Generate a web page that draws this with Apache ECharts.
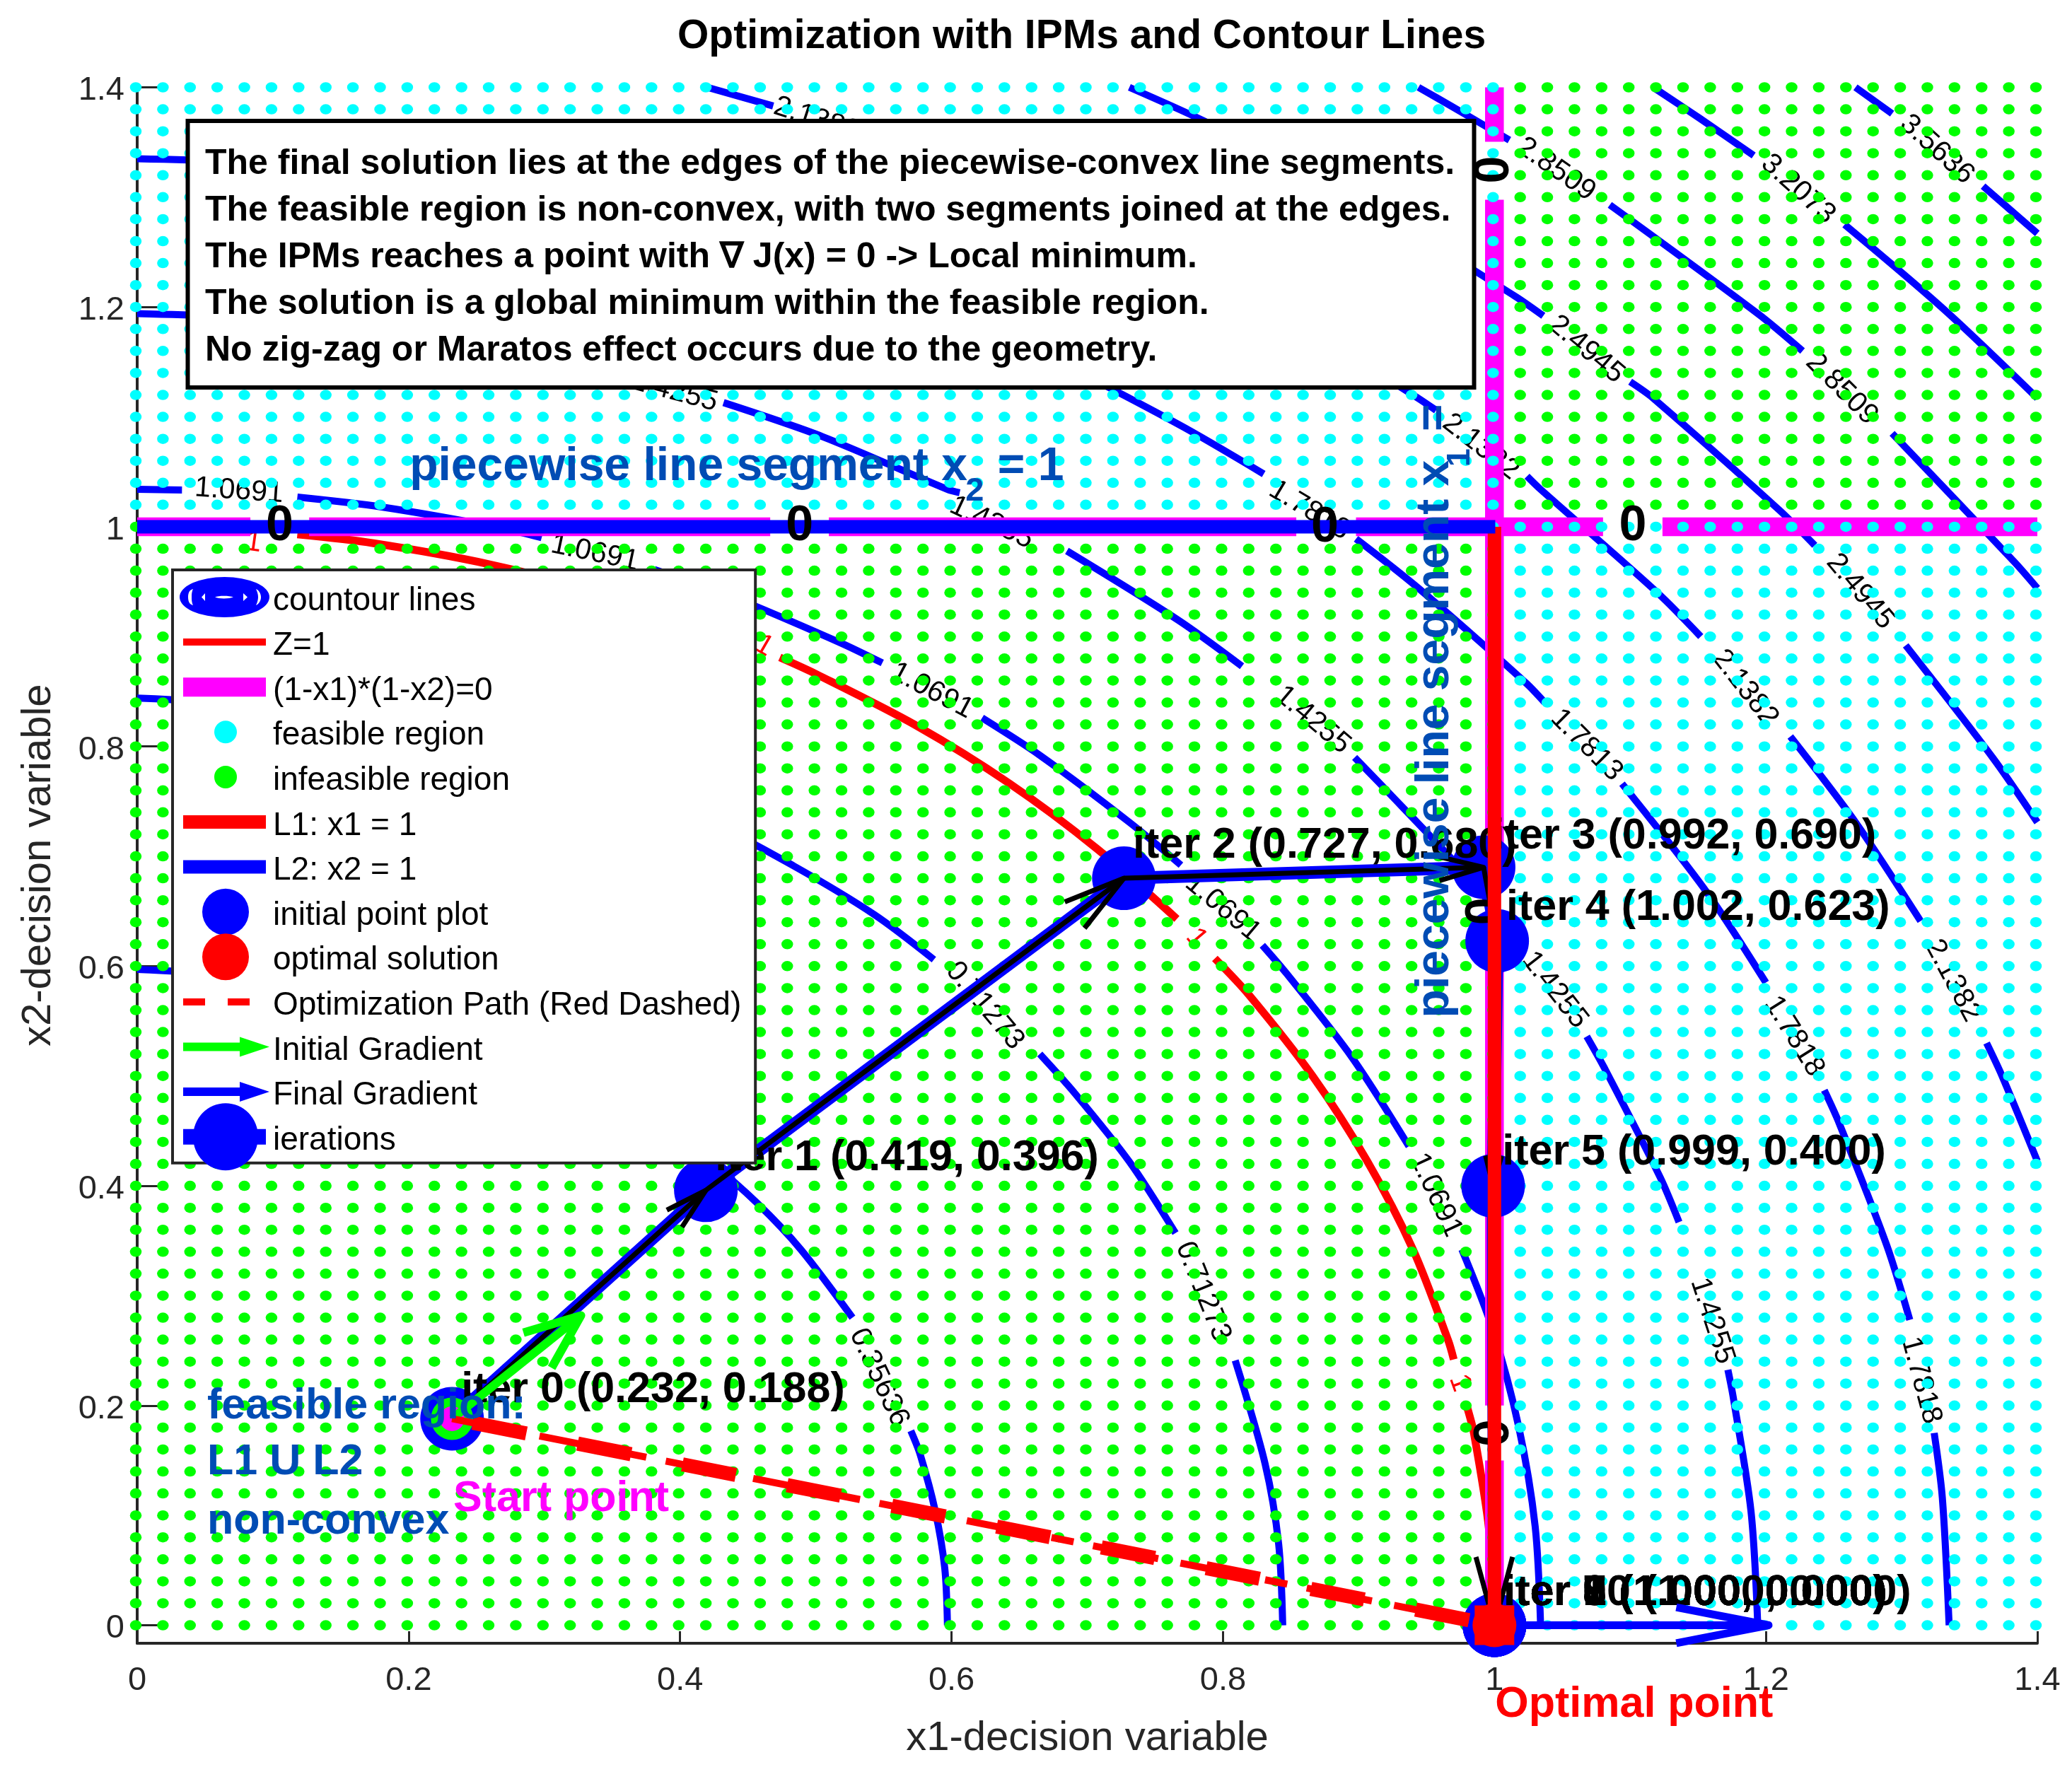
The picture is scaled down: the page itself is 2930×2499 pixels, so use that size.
<!DOCTYPE html>
<html><head><meta charset="utf-8">
<style>html,body{margin:0;padding:0;background:#fff}#c{width:2930px;height:2499px}</style>
<script src="https://cdn.jsdelivr.net/npm/echarts@6/dist/echarts.min.js"></script>
</head><body><div id="c"></div>
<script>
const chartTitle='Optimization with IPMs and Contour Lines';
const xTicks=[0,0.2,0.4,0.6,0.8,1,1.2,1.4];
const yTicks=[0,0.2,0.4,0.6,0.8,1,1.2,1.4];
const latticeValues=[0,0.02,0.04,0.06,0.08,0.1,0.12,0.14,0.16,0.18,0.2,0.22,0.24,0.26,0.28,0.3,0.32,0.34,0.36,0.38,0.4,0.42,0.44,0.46,0.48,0.5,0.52,0.54,0.56,0.58,0.6,0.62,0.64,0.66,0.68,0.7,0.72,0.74,0.76,0.78,0.8,0.82,0.84,0.86,0.88,0.9,0.92,0.94,0.96,0.98,1,1.02,1.04,1.06,1.08,1.1,1.12,1.14,1.16,1.18,1.2,1.22,1.24,1.26,1.28,1.3,1.32,1.34,1.36,1.38,1.4];

const contourSegments=[
 [[.597,0],[.595,.052],[.588,.104],[.577,.155],[.570,.177]],
 [[.527,.28],[.489,.342],[.457,.384],[.422,.422],[.384,.457],[.299,.517],[.204,.561],[.104,.588],[0,.597]],
 [[.844,0],[.841,.074],[.831,.147],[.809,.241]],
 [[.765,.357],[.731,.422],[.691,.484],[.665,.52]],
 [[.587,.606],[.543,.647],[.484,.691],[.422,.731],[.289,.793],[.147,.831],[0,.844]],
 [[1.034,0],[1.030,.090],[1.018,.180],[.999,.268],[.976,.342]],
 [[.937,.436],[.895,.517],[.847,.593],[.829,.619]],
 [[.769,.692],[.731,.731],[.665,.792],[.6225,.826]],
 [[.549,.876],[.517,.895],[.437,.937],[.381,.961]],
 [[.298,.990],[.268,.999],[.180,1.018],[.118,1.027]],
 [[.033,1.0335],[0,1.034]],
 [[1.194,0],[1.189,.104],[1.176,.207],[1.172,.2325]],
 [[1.136,.367],[1.122,.408],[1.082,.505],[1.068,.536]],
 [[1.0,.652],[.978,.685],[.915,.767],[.897,.79]],
 [[.814,.873],[.767,.915],[.685,.978]],
 [[.606,1.031],[.597,1.034],[.505,1.082],[.432,1.113]],
 [[.369,1.136],[.309,1.153],[.207,1.176],[.104,1.189],[0,1.194]],
 [[1.335,0],[1.330,.116],[1.324,.175]],
 [[1.306,.278],[1.289,.346],[1.254,.457],[1.243,.487]],
 [[1.2,.585],[1.156,.668],[1.094,.766]],
 [[1.037,.840],[1.023,.858],[.944,.944],[.898,.989]],
 [[.83,1.048],[.766,1.094],[.668,1.156],[.564,1.210],[.457,1.254],[.346,1.289],[.232,1.315],[.116,1.330],[0,1.335]],
 [[.42,1.4],[.4686,1.383]],
 [[.731,1.266],[.839,1.198],[.940,1.120],[.957,1.106]],
 [[1.024,1.046],[1.034,1.034],[1.120,.940],[1.152,.900]],
 [[1.218,.809],[1.266,.731],[1.314,.641]],
 [[1.3626,.53],[1.374,.500],[1.4,.4225]],
 [[.731,1.4],[.790,1.367],[.906,1.293],[1.015,1.210],[1.036,1.192]],
 [[1.100,1.132],[1.117,1.117],[1.210,1.015],[1.236,.983]],
 [[1.303,.892],[1.367,.790],[1.4,.731]],
 [[.944,1.4],[.968,1.383],[1.011,1.352]],
 [[1.085,1.293],[1.194,1.194],[1.227,1.160]],
 [[1.293,1.085],[1.383,.968],[1.4,.944]],
 [[1.117,1.4],[1.151,1.372],[1.191,1.338]],
 [[1.258,1.275],[1.331,1.198],[1.4,1.117]],
 [[1.266,1.4],[1.293,1.376]],
 [[1.36,1.31],[1.4,1.267]]
];
const contourLabelText=['0.35636','0.71273','0.71273','1.0691','1.0691','1.0691','1.0691','1.0691','1.4255','1.4255','1.4255','1.4255','1.4255','1.7818','1.7813','1.7818','1.7818','2.1382','2.1382','2.1382','2.4945','2.4945','2.8509','2.8509','3.2073','3.5636','2.1382'];
const contourLabelX=[.5466,.7853,.6245,.075,.3371,.5855,.7999,.9567,.3956,.6294,.8661,1.0444,1.1604,.8637,1.0678,1.2208,1.3143,.99,1.1847,1.3377,1.0678,1.2695,1.0454,1.2559,1.2237,1.326,.5008];
const contourLabelY=[.2253,.3036,.5639,1.0325,.9759,.8506,.653,.3916,1.1229,1.0036,.8241,.5783,.2771,1.015,.8012,.5361,.2229,1.0727,.853,.5867,1.1614,.941,1.3253,1.1253,1.3072,1.3434,1.371];
const contourLabelAngle=[-65,-68,-50,-4,-12,-28,-40,-65,-15,-25,-40,-52,-72,-31,-45,-58,-75,-38,-52,-62,-40,-50,-35,-45,-42,-42,-18];

const unitSegments=[
 [[0,1],[.07,.9975]],
 [[.118,.993],[.174,.985],[.259,.966],[.342,.940],[.423,.906],[.44,.898]],
 [[.4735,.881],[.5,.866],[.574,.819],[.643,.766],[.707,.707],[.766,.643]],
 [[.794,.607],[.819,.574],[.866,.5],[.906,.423],[.940,.342],[.966,.259],[.970,.242]],
 [[.980,.198],[.985,.174],[.996,.087],[1,0]]
];
const unitLabelX=[.0857,.4618,.7804,.9743];
const unitLabelY=[.9855,.8916,.6253,.2205];
const unitLabelAngle=[-8,-30,-50,-70];

const constraintSegments=[
 [[0,1],[.0834,1]],[[.1267,1],[.4664,1]],[[.5096,1],[.854,1]],[[.898,1],[1.080,1]],[[1.1238,1],[1.4,1]],
 [[1,0],[1,.15]],[[1,.2],[1,.625]],[[1,.675],[1,1.2977]],[[1,1.3505],[1,1.4]]
];
const zeroAcrossX=[.105,.488,.875,1.102];
const zeroAcrossY=[1,1,.9986,1];
const zeroAlongX=[1,.994];
const zeroAlongY=[.175,.65];
const zeroTopX=[1];
const zeroTopY=[1.325];

const iterX=[.232,.419,.727,.992,1.002,.999,1,1,1,1,1];
const iterY=[.188,.396,.680,.690,.623,.400,0,0,0,0,0];
const iterText=['iter 0 (0.232, 0.188)','iter 1 (0.419, 0.396)','iter 2 (0.727, 0.680)','iter 3 (0.992, 0.690)','iter 4 (1.002, 0.623)','iter 5 (0.999, 0.400)','iter 6 (1.000, 0.000)','iter 7 (1.000, 0.000)','iter 8 (1.000, 0.000)','iter 9 (1.000, 0.000)','iter 10 (1.000, 0.000)'];
const iterTextX=[.2387,.4258,.7336,.9987,1.0087,1.0057,1.0067,1.0067,1.0067,1.0067,1.0067];
const iterTextY=[.214,.4253,.7096,.718,.653,.43,.029,.029,.029,.029,.029];
const stepStart=[[.232,.188],[.419,.396],[.727,.680],[.992,.690],[1.002,.623],[.999,.400]];
const stepEnd=[[.419,.396],[.727,.680],[.992,.690],[1.002,.623],[.999,.400],[1,0]];
const stepHead=[62,90,65,14,44,100];

const startPoint=[.232,.188];
const optimalPoint=[1,0];
const initialGradient=[.232,.188,.327,.282];
const finalGradient=[1,0,1.202,0];
const boxLines=['The final solution lies at the edges of the piecewise-convex line segments.','The feasible region is non-convex, with two segments joined at the edges.','The IPMs reaches a point with \u2207 J(x) = 0 -> Local minimum.','The solution is a global minimum within the feasible region.','No zig-zag or Maratos effect occurs due to the geometry.'];

const noteText=['feasible region:','L1 U L2','non-convex','Start point','Optimal point'];
const noteX=[.0516,.0516,.0516,.2329,1.0005];
const noteY=[.199,.148,.094,.1145,-.0723];
const BLUE_NOTE='#004cb4';
const noteColor=[BLUE_NOTE,BLUE_NOTE,BLUE_NOTE,'#ff00ff','#ff0000'];
const segmentNoteText=['piecewise line segment x','= 1'];
const segmentNoteX=[.2007,.634];
const segmentNoteY=[1.054,1.054];
const sideNoteX=[.9565,.9565];
const sideNoteY=[.553,1.0868];

const SANS='"Liberation Sans"';
function flat(segs){const o=[];segs.forEach((s,i)=>{if(i)o.push(['-','-']);s.forEach(p=>o.push(p));});return o;}
function isFeasible(x,y){
  if((x-1)*(y-1)<0)return true;
  if(x===1&&y>=1)return true;
  if(y===1&&x>1)return true;
  return false;
}
const feasiblePts=[],infeasiblePts=[];
latticeValues.forEach(x=>latticeValues.forEach(y=>{(isFeasible(x,y)?feasiblePts:infeasiblePts).push([x,y]);}));

function textSeries(name,xs,ys,texts,angles,font,colors,align){
  return {type:'custom',name,silent:true,coordinateSystem:'cartesian2d',clip:false,encode:{x:0,y:1},
    data:xs.map((x,i)=>[x,ys[i]]),
    renderItem(p,api){
      const i=p.dataIndex,c=api.coord([api.value(0),api.value(1)]);
      const col=Array.isArray(colors)?colors[i]:colors;
      return {type:'text',x:c[0],y:c[1],rotation:(angles?angles[i]:0)*Math.PI/180,
        style:{text:Array.isArray(texts)?texts[i]:texts,font,fill:col,align:align||'center',verticalAlign:'middle'}};
    }};
}
function arrowSeries(name,rows,color,width,heads,headDeg){
  return {type:'custom',name,silent:true,clip:false,coordinateSystem:'cartesian2d',encode:{x:[0,2],y:[1,3]},
    data:rows,
    renderItem(p,api){
      const a=api.coord([api.value(0),api.value(1)]),b=api.coord([api.value(2),api.value(3)]);
      const t=Math.atan2(b[1]-a[1],b[0]-a[0]),r=headDeg*Math.PI/180,headLen=heads[p.dataIndex];
      const s1=[b[0]-headLen*Math.cos(t-r),b[1]-headLen*Math.sin(t-r)];
      const s2=[b[0]-headLen*Math.cos(t+r),b[1]-headLen*Math.sin(t+r)];
      const st={stroke:color,lineWidth:width,fill:null,lineJoin:'round'};
      return {type:'group',children:[
        {type:'polyline',shape:{points:[a,b]},style:st},
        {type:'polyline',shape:{points:[s1,b,s2]},style:st}]};
    }};
}
function lineSeries(name,data,color,width,extra){
  return Object.assign({type:'line',name,data,symbol:'none',silent:true,clip:false,connectNulls:false,animation:false,
    lineStyle:{color,width,cap:'butt',join:'miter'},itemStyle:{color}},extra||{});
}
function dots(name,data,color,size,sym,offset){
  return {type:'scatter',name,data,symbol:sym||'circle',symbolSize:size,symbolOffset:offset||[0,0],silent:true,clip:false,itemStyle:{color,opacity:1}};
}
const CORNERS='M0 0L.01 0L.01 .01ZM127 95L126.99 95L126.99 94.99Z';
const bar=(x0,x1,h)=>`M${x0} ${47.5-h/2}H${x1}V${47.5+h/2}H${x0}Z`;
const disc=(r)=>`M${65-r} 47.5a${r} ${r} 0 1 0 ${2*r} 0a${r} ${r} 0 1 0 ${-2*r} 0Z`;
const arrowIcon=bar(5,90,12)+'M85 33.5L127 47.5L85 61.5Z';
const ellipseIcon='M0 47.5a63.5 28.5 0 1 0 127 0a63.5 28.5 0 1 0 -127 0Z'+
 'M12 47.5C12 40 15 37 19 36C17 40 17 45 17 47.5C17 50 17 55 19 59C15 58 12 55 12 47.5Z'+
 'M31 47.5L36 42L36 53Z M50 47.5C55 45 70 45 76 47.5C70 50 55 50 50 47.5Z M90 42L96 47.5L90 53Z'+
 'M108 36C112 38 115 42 115 47.5C115 53 112 57 108 59C110 55 111 51 111 47.5C111 44 110 40 108 36Z';
const icons={
 'countour lines':[ellipseIcon,'#0000ff'],
 'Z=1':[bar(5,122,10),'#ff0000'],
 '(1-x1)*(1-x2)=0':[bar(5,122,27),'#ff00ff'],
 'feasible region':[disc(16),'#00ffff'],
 'infeasible region':[disc(16),'#00ff00'],
 'L1: x1 = 1':[bar(5,122,19),'#ff0000'],
 'L2: x2 = 1':[bar(5,122,19),'#0000ff'],
 'initial point plot':[disc(33),'#0000ff'],
 'optimal solution':[disc(33),'#ff0000'],
 'Optimization Path (Red Dashed)':[bar(5,36,10)+bar(68,99,10),'#ff0000'],
 'Initial Gradient':[arrowIcon,'#00ff00'],
 'Final Gradient':[arrowIcon,'#0000ff'],
 'ierations':[bar(5,122,22)+'M19 47.5a46 47.5 0 1 1 92 0a46 47.5 0 1 1 -92 0Z','#0000ff']
};
const legendData=Object.keys(icons).map(n=>({name:n,icon:'path://'+CORNERS+icons[n][0],itemStyle:{color:icons[n][1],borderWidth:0}}));

const DOT=[16.5,14.5],DOT_SHIFT=[-2,0];
const series=[
 lineSeries('countour lines',flat(contourSegments),'#0000ff',10,{smooth:.3}),
 textSeries('contour labels',contourLabelX,contourLabelY,contourLabelText,contourLabelAngle,'41px '+SANS,'#000'),
 lineSeries('Z=1',flat(unitSegments),'#ff0000',11,{smooth:.3}),
 textSeries('unit labels',unitLabelX,unitLabelY,'1',unitLabelAngle,'41px '+SANS,'#ff0000'),
 lineSeries('(1-x1)*(1-x2)=0',flat(constraintSegments),'#ff00ff',26.5),
 dots('feasible region',feasiblePts,'#00ffff',DOT,'circle',DOT_SHIFT),
 dots('infeasible region',infeasiblePts,'#00ff00',DOT,'circle',DOT_SHIFT),
 lineSeries('ierations',iterX.map((x,i)=>[x,iterY[i]]),'#0000ff',18,{symbol:'circle',symbolSize:90,showSymbol:true,showAllSymbol:true,itemStyle:{color:'#0000ff'}}),
 arrowSeries('steps',stepStart.map((s,i)=>[s[0],s[1],stepEnd[i][0],stepEnd[i][1]]),'#000',7,stepHead,15),
 textSeries('iter labels',iterTextX,iterTextY,iterText,null,'bold 61px '+SANS,'#000','left'),
 textSeries('zero along',zeroAlongX,zeroAlongY,'0',[90,90],'bold 70px '+SANS,'#000'),
 lineSeries('L1: x1 = 1',[[1,0],[1,1]],'#ff0000',19),
 lineSeries('L2: x2 = 1',[[0,1],[1.0006,1]],'#0000ff',19),
 dots('initial point plot',[startPoint],'#00ff00',60),
 dots('start core',[startPoint],'#ff00ff',35),
 arrowSeries('Final Gradient',[finalGradient],'#0000ff',11,[133],11),
 arrowSeries('Initial Gradient',[initialGradient],'#00ff00',12,[85],22),
 lineSeries('Optimization Path (Red Dashed)',[startPoint,optimalPoint],'#ff0000',10,{lineStyle:{color:'#ff0000',width:10,cap:'butt',type:[94,32,108,14,32,28]}}),
 lineSeries('path overlay',[startPoint,optimalPoint],'#ff0000',20,{lineStyle:{color:'#ff0000',width:20,cap:'butt',type:[77,74],dashOffset:-30}}),
 dots('optimal solution',[optimalPoint],'#ff0000',62),
 dots('optimal core',[optimalPoint],'#ff0000',56,'rect'),
 textSeries('notes',noteX,noteY,noteText,null,'bold 61px '+SANS,noteColor,'left'),
 textSeries('segment note',segmentNoteX,segmentNoteY,segmentNoteText,null,'bold 66px '+SANS,BLUE_NOTE,'left'),
 textSeries('sub2',[.6171],[1.032],'2',null,'bold 47px '+SANS,BLUE_NOTE),
 textSeries('side note',sideNoteX,sideNoteY,segmentNoteText,[90,90],'bold 66px '+SANS,BLUE_NOTE,'left'),
 textSeries('sub1',[.975],[1.063],'1',[90],'bold 47px '+SANS,BLUE_NOTE),
 textSeries('zero across',zeroAcrossX,zeroAcrossY,'0',null,'bold 70px '+SANS,'#000'),
 textSeries('zero top',zeroTopX,zeroTopY,'0',[90],'bold 70px '+SANS,'#000')
];
series.forEach((s,i)=>{s.animation=false;s.z=i+1;});

const chart=echarts.init(document.getElementById('c'),null,{renderer:'canvas',width:2930,height:2499});
const axisColor='#262626';
chart.setOption({
 animation:false,backgroundColor:'#fff',
 title:{text:chartTitle,left:958,top:24,padding:0,textStyle:{fontFamily:SANS,fontWeight:'bold',fontSize:57,color:'#000'}},
 grid:{left:194,right:49,top:123.5,bottom:175,containLabel:false},
 xAxis:{type:'value',min:0,max:1.4,name:'x1-decision variable',nameLocation:'middle',nameGap:106,
   nameTextStyle:{fontFamily:SANS,fontSize:58,color:axisColor},
   axisLine:{onZero:false,lineStyle:{color:axisColor,width:4}},
   axisTick:{inside:true,length:17,customValues:xTicks,lineStyle:{color:axisColor,width:3}},
   axisLabel:{customValues:xTicks,fontFamily:SANS,fontSize:47,color:axisColor,margin:30,formatter:v=>String(v)},
   splitLine:{show:false}},
 yAxis:{type:'value',min:-0.0164,max:1.4,name:'x2-decision variable',nameLocation:'middle',nameGap:110,
   nameTextStyle:{fontFamily:SANS,fontSize:58,color:axisColor},
   axisLine:{onZero:false,lineStyle:{color:axisColor,width:4}},
   axisTick:{inside:true,length:29,customValues:yTicks,lineStyle:{color:axisColor,width:3}},
   axisLabel:{customValues:yTicks,margin:18,formatter:v=>`{t|${v}}`,
     rich:{t:{fontFamily:SANS,fontSize:47,color:axisColor,padding:[10,0,0,0]}}},
   splitLine:{show:false}},
 legend:{orient:'vertical',left:244,top:806,align:'left',selectedMode:false,z:40,
   padding:[-9,20,-10.5,10],itemWidth:127,itemHeight:95,itemGap:-31.4,
   backgroundColor:'#fff',borderColor:axisColor,borderWidth:4,
   formatter:n=>`{t|${n}}`,
   textStyle:{fontFamily:SANS,fontSize:46,color:'#000',
     rich:{t:{fontFamily:SANS,fontSize:46,color:'#000',padding:[11,0,0,0]}}},
   data:legendData},
 graphic:{elements:[
   {type:'rect',z:41,silent:true,shape:{x:265.5,y:171,width:1819,height:377},style:{fill:'#fff',stroke:'#000',lineWidth:6}}
 ].concat(boxLines.map((t,i)=>({type:'text',z:42,silent:true,x:290,y:232+i*66,style:{text:t,font:'bold 50px '+SANS,fill:'#000',align:'left',verticalAlign:'middle'}})))},
 series
});
</script></body></html>
